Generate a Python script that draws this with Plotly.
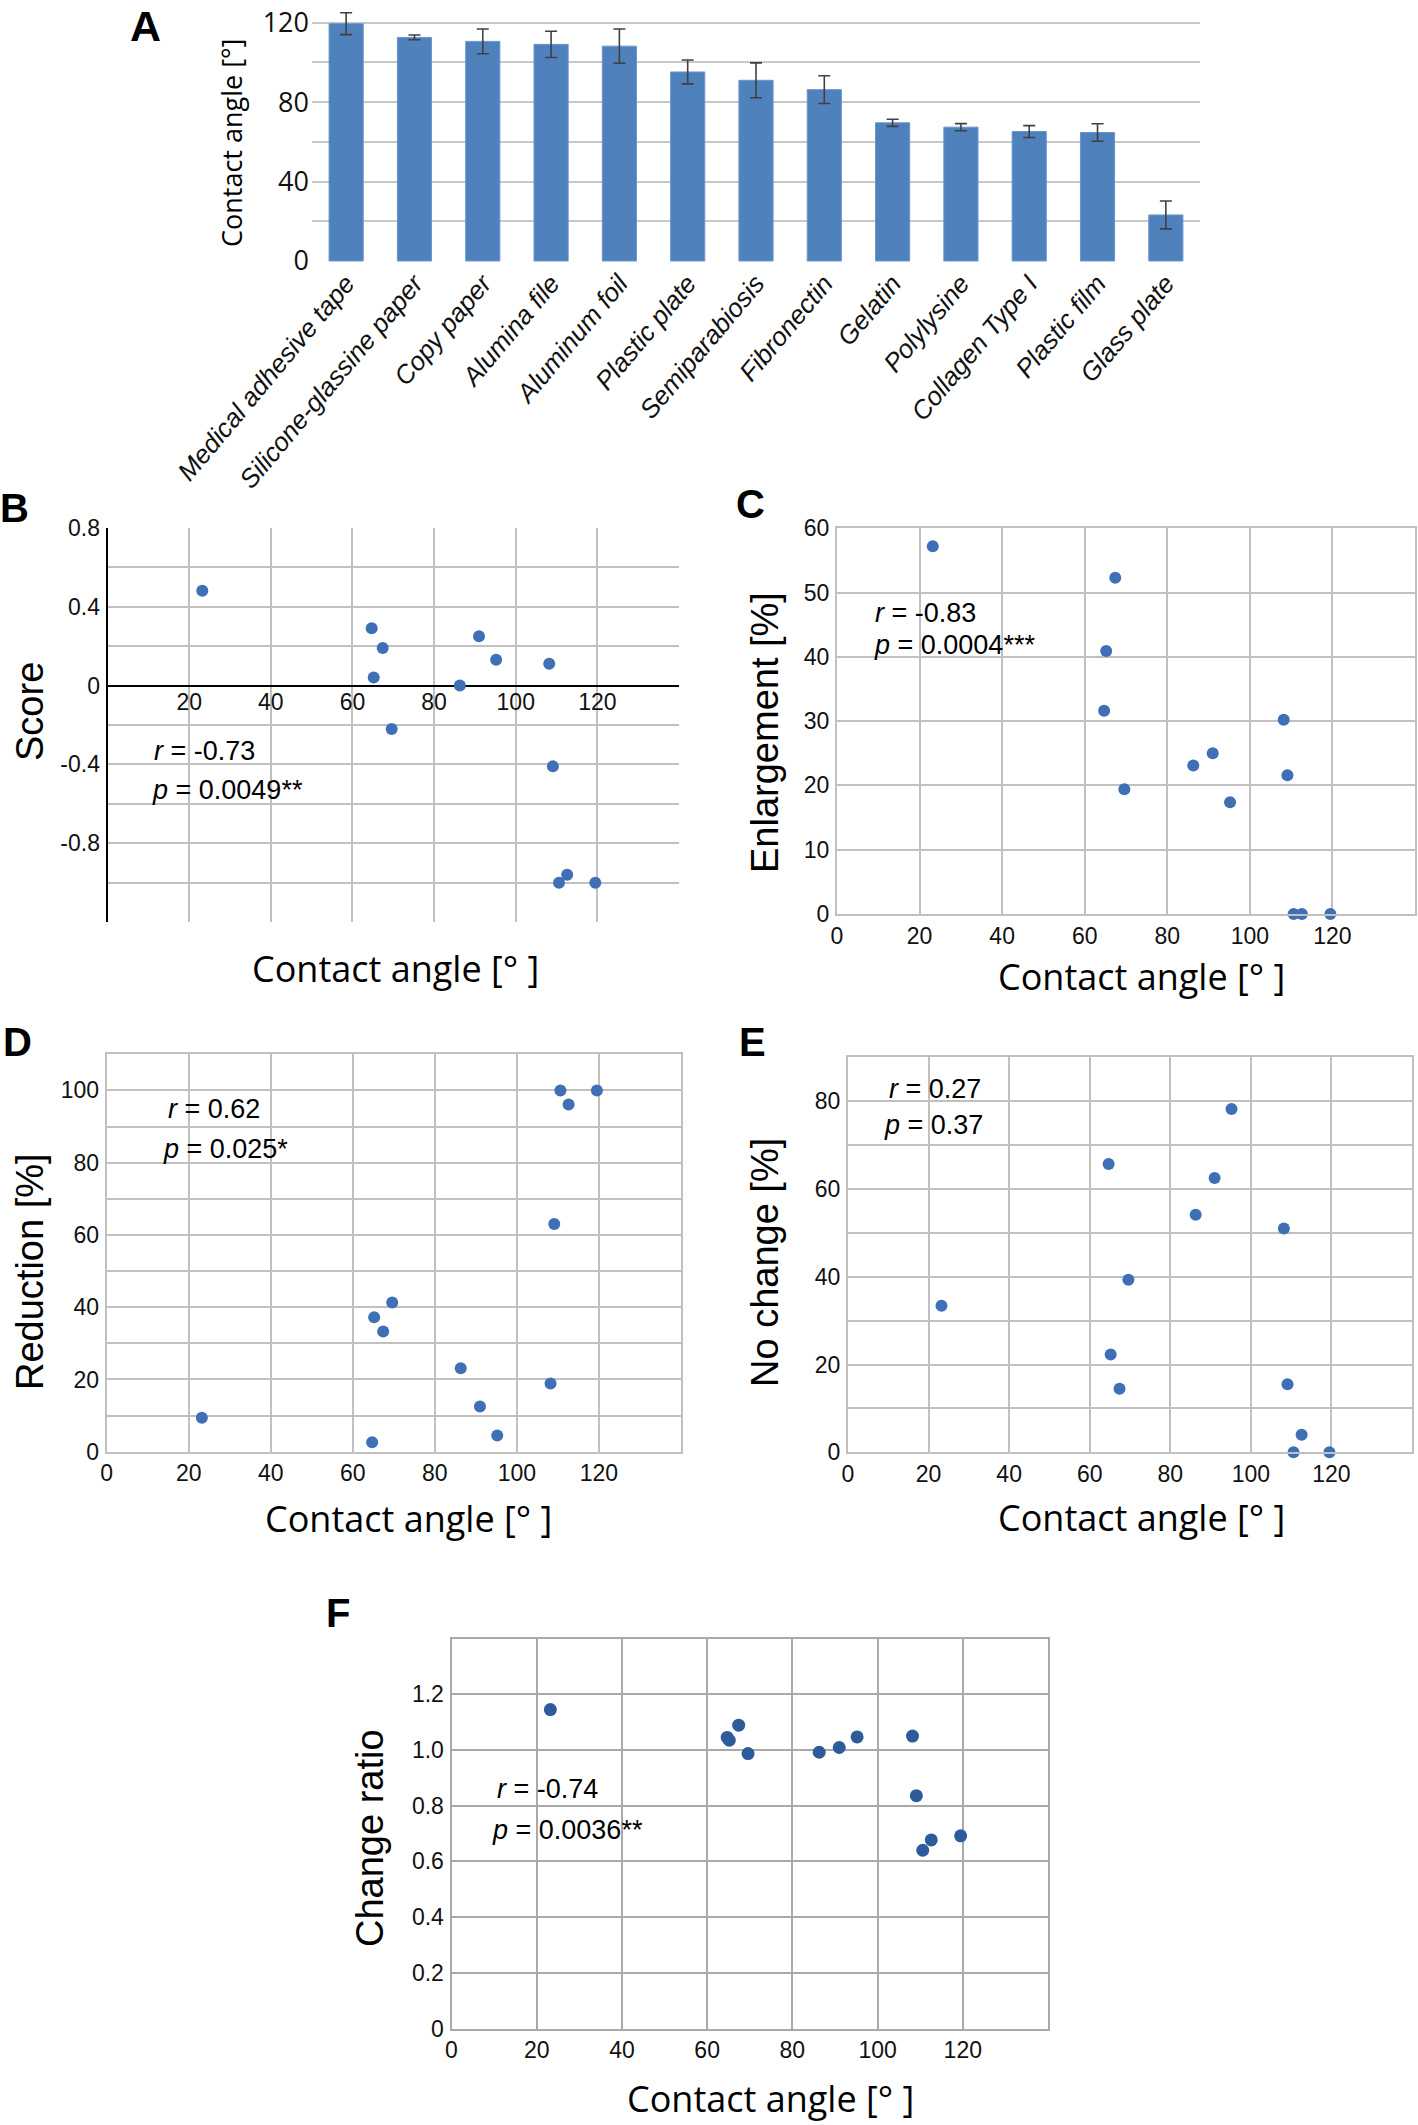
import plotly.graph_objects as go

W, H = 1418, 2125

# ---------------- data ----------------
surfaces = ["Medical adhesive tape", "Silicone-glassine paper", "Copy paper", "Alumina file",
            "Aluminum foil", "Plastic plate", "Semiparabiosis", "Fibronectin", "Gelatin",
            "Polylysine", "Collagen Type I", "Plastic film", "Glass plate"]
contact_angle = [119.5, 112.6, 110.6, 109.1, 108.2, 95.2, 91.0, 86.3, 69.6, 67.4, 65.2, 64.7, 23.2]
contact_angle_sd = [5.5, 1.2, 6.2, 6.6, 8.6, 6.0, 8.8, 7.0, 1.8, 1.8, 3.0, 4.4, 7.0]
score = [-1.0, -0.96, -1.0, -0.41, 0.11, 0.13, 0.25, 0.0, -0.22, 0.19, 0.04, 0.29, 0.48]
enlargement = [0, 0, 0, 21.6, 30.2, 17.4, 25.0, 23.1, 19.4, 52.3, 40.9, 31.6, 57.2]
reduction = [100, 96.1, 100, 63.0, 18.9, 4.5, 12.5, 23.1, 41.3, 33.3, 37.2, 2.6, 9.4]
no_change = [0, 4.0, 0, 15.5, 51.0, 78.2, 62.5, 54.1, 39.3, 14.5, 22.3, 65.7, 33.4]
change_ratio = [0.692, 0.677, 0.64, 0.836, 1.05, 1.047, 1.009, 0.992, 0.987, 1.089, 1.035, 1.045, 1.145]

# tick labels
a_yvals = [0, 20, 40, 60, 80, 100, 120]
a_ytext = ["0", "", "40", "", "80", "", "120"]
angle_vals = [0, 20, 40, 60, 80, 100, 120, 140]
angle_text = ["0", "20", "40", "60", "80", "100", "120", ""]
b_xtext = ["", "20", "40", "60", "80", "100", "120", ""]
b_yvals = [-1.2, -1.0, -0.8, -0.6, -0.4, -0.2, 0, 0.2, 0.4, 0.6, 0.8]
b_ytext = ["", "", "-0.8", "", "-0.4", "", "0", "", "0.4", "", "0.8"]
c_yvals = [0, 10, 20, 30, 40, 50, 60]
c_ytext = ["0", "10", "20", "30", "40", "50", "60"]
d_yvals = [0, 10, 20, 30, 40, 50, 60, 70, 80, 90, 100, 110]
d_ytext = ["0", "", "20", "", "40", "", "60", "", "80", "", "100", ""]
e_yvals = [0, 10, 20, 30, 40, 50, 60, 70, 80, 90]
e_ytext = ["0", "", "20", "", "40", "", "60", "", "80", ""]
f_yvals = [0, 0.2, 0.4, 0.6, 0.8, 1.0, 1.2, 1.4]
f_ytext = ["0", "0.2", "0.4", "0.6", "0.8", "1.0", "1.2", ""]

stats = {
    "B": ("-0.73", "0.0049**"),
    "C": ("-0.83", "0.0004***"),
    "D": ("0.62", "0.025*"),
    "E": ("0.27", "0.37"),
    "F": ("-0.74", "0.0036**"),
}

# ---------------- helpers ----------------
def xd(l, r):
    return [l / W, r / W]

def yd(top, bottom):
    return [1 - bottom / H, 1 - top / H]

ARIAL = "Liberation Sans, Arial, sans-serif"
OPEN = "Open Sans, Segoe UI, sans-serif"
BLUE = "#3F6FB4"
GRID = "#C0C0C0"

fig = go.Figure()

# ---------------- Panel A ----------------
fig.add_trace(go.Bar(
    x=surfaces, y=contact_angle,
    error_y=dict(type="data", array=contact_angle_sd, color="#404040", thickness=1.6, width=6),
    marker=dict(color="#4F81BD", line=dict(color="#6A95CC", width=1)),
    xaxis="x", yaxis="y", width=0.5,
))

fig.update_layout(
    xaxis=dict(domain=xd(312, 1200), anchor="y", showgrid=False, showline=False, zeroline=False,
               tickangle=-50, ticks="", automargin=False,
               tickfont=dict(family=ARIAL, size=26, style="italic", color="#111")),
    yaxis=dict(domain=yd(10.8, 262), anchor="x", range=[-0.5, 126], tickvals=a_yvals, ticktext=a_ytext,
               showgrid=True, gridcolor="#C8C8C8", gridwidth=2, zeroline=False, showline=False,
               automargin=False,
               ticks="", tickfont=dict(family=OPEN, size=27, color="#111"), ticklabelstandoff=2),
)

# ---------------- Scatter panels ----------------
panels = [
    # key, axis idx, x-left, x-right, y-top, y-bottom, yvalues, yrange, yticks, ytext, xtext
    ("B", 2, 107.6, 679, 527.7, 922.2, score, [-1.2, 0.8], b_yvals, b_ytext, b_xtext),
    ("C", 3, 837, 1415, 528.3, 914, enlargement, [0, 60], c_yvals, c_ytext, angle_text),
    ("D", 4, 106.7, 681, 1054.3, 1451.7, reduction, [0, 110], d_yvals, d_ytext, angle_text),
    ("E", 5, 848, 1412, 1057.3, 1452.3, no_change, [0, 90], e_yvals, e_ytext, angle_text),
    ("F", 6, 451.5, 1048, 1638.6, 2028.5, change_ratio, [0, 1.4], f_yvals, f_ytext, angle_text),
]

layout_axes = {}
for key, i, xl, xr, yt, yb, yv, yr, ytv, ytt, xtt in panels:
    color = "#2E5B99" if key == "F" else BLUE
    gcol = "#A9A9A9" if key == "F" else GRID
    msize = 13 if key == "F" else 12
    fig.add_trace(go.Scatter(
        x=contact_angle, y=yv, mode="markers",
        marker=dict(size=msize, color=color),
        xaxis=f"x{i}", yaxis=f"y{i}", cliponaxis=False,
    ))
    xa = dict(domain=xd(xl, xr), range=[0, 140], tickvals=angle_vals, ticktext=xtt,
              showgrid=True, gridcolor=gcol, gridwidth=2, zeroline=False, automargin=False,
              ticks="", tickfont=dict(family=ARIAL, size=23, color="#111"), ticklabelstandoff=0)
    ya = dict(domain=yd(yt, yb), range=yr, tickvals=ytv, ticktext=ytt,
              showgrid=True, gridcolor=gcol, gridwidth=2, zeroline=False, automargin=False,
              ticks="", tickfont=dict(family=ARIAL, size=23, color="#111"), ticklabelstandoff=1)
    if key == "B":
        zero_pos = 1 - (527.7 + 0.8 * (922.2 - 527.7) / 2.0) / H
        xa.update(anchor="free", position=zero_pos, showline=False)
        ya.update(anchor=f"x{i}", showline=True, linecolor="#000", linewidth=2,
                  zeroline=True, zerolinecolor="#000", zerolinewidth=2)
    else:
        xa.update(anchor=f"y{i}", showline=True, mirror=True, linecolor=gcol, linewidth=2)
        ya.update(anchor=f"x{i}", showline=True, mirror=True, linecolor=gcol, linewidth=2)
    layout_axes[f"xaxis{i}"] = xa
    layout_axes[f"yaxis{i}"] = ya

fig.update_layout(**layout_axes)

# ---------------- annotations ----------------
ann = []

def txt(x, y, text, size, family=ARIAL, angle=0, xanchor="center", yanchor="middle",
        bold=False, color="#000"):
    ann.append(dict(
        x=x / W, y=1 - y / H, xref="paper", yref="paper", text=(f"<b>{text}</b>" if bold else text),
        showarrow=False, textangle=angle, xanchor=xanchor, yanchor=yanchor,
        font=dict(family=family, size=size, color=color),
    ))

# panel letters
txt(145, 0, "A", 43, bold=True, yanchor="top")
txt(14, 508, "B", 40, bold=True)
txt(751, 504, "C", 40, bold=True)
txt(17, 1042, "D", 40, bold=True)
txt(753, 1042, "E", 40, bold=True)
txt(338, 1613, "F", 40, bold=True)

# axis titles
txt(231, 143, "Contact angle [°]", 27, family=OPEN, angle=-90)
txt(30, 711, "Score", 38, angle=-90)
txt(765, 733, "Enlargement [%]", 38, angle=-90)
txt(30, 1272, "Reduction [%]", 38, angle=-90)
txt(765, 1263, "No change [%]", 38, angle=-90)
txt(370, 1838, "Change ratio", 38, angle=-90)

xtitle = "Contact angle [° ]"
txt(395, 968, xtitle, 36, family=OPEN)
txt(1141, 976, xtitle, 36, family=OPEN)
txt(408, 1518, xtitle, 36, family=OPEN)
txt(1141, 1517, xtitle, 36, family=OPEN)
txt(770, 2125, xtitle, 36, family=OPEN, yanchor="bottom")

# statistics
stat_pos = {
    "B": ((152, 751), (150, 790)),
    "C": ((873, 613), (872, 645)),
    "D": ((166, 1109), (161, 1149)),
    "E": ((887, 1089), (882, 1125)),
    "F": ((495, 1789), (490, 1830)),
}
for key, (r, p) in stats.items():
    (rx, ry), (px, py) = stat_pos[key]
    txt(rx, ry, f"<i>r</i> = {r}", 27, xanchor="left")
    txt(px, py, f"<i>p</i> = {p}", 27, xanchor="left")

fig.update_layout(
    annotations=ann,
    width=W, height=H, margin=dict(l=0, r=0, t=0, b=0, autoexpand=False),
    paper_bgcolor="white", plot_bgcolor="white", showlegend=False,
    font=dict(family=ARIAL, color="#000"),
)

fig.write_html("out.html", config={"displayModeBar": False},
               post_script="document.body.style.margin='0px';document.body.style.overflow='hidden';")
